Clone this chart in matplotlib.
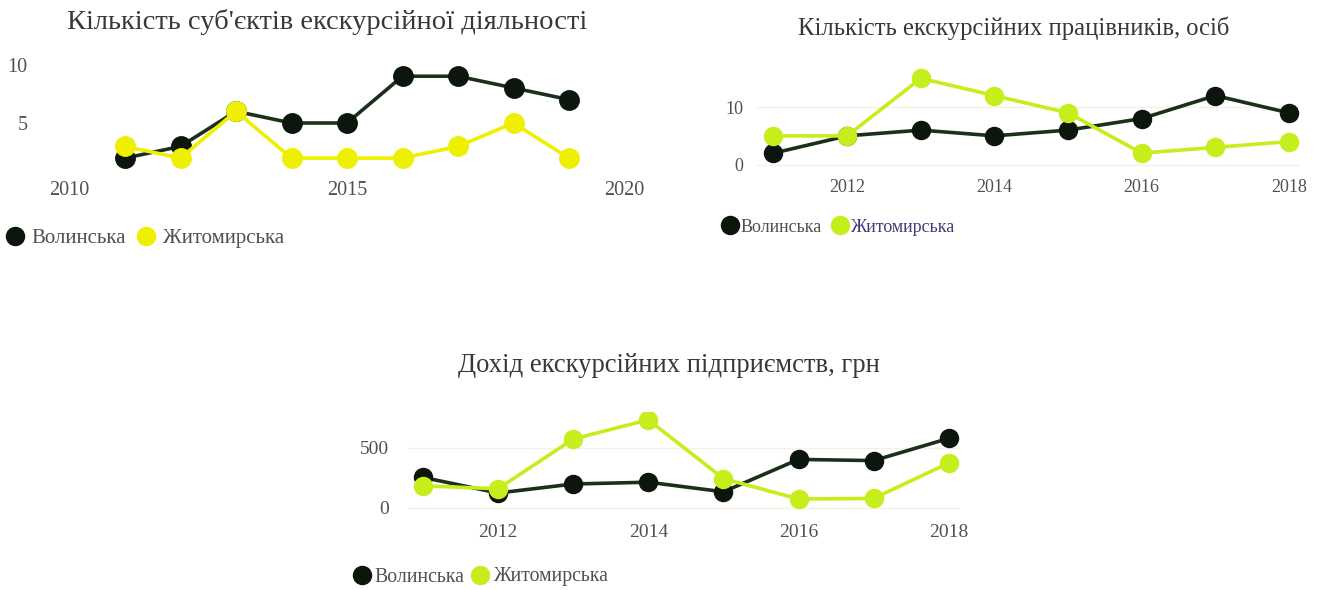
import matplotlib
matplotlib.use('Agg')
import matplotlib.pyplot as plt
from matplotlib.lines import Line2D

plt.rcParams['font.family'] = ['Liberation Serif', 'DejaVu Serif']

# chart 1: number of excursion entities
years1 = [2011, 2012, 2013, 2014, 2015, 2016, 2017, 2018, 2019]
volyn1 = [2, 3, 6, 5, 5, 9, 9, 8, 7]
zhyt1 = [3, 2, 6, 2, 2, 2, 3, 5, 2]

# chart 2: number of excursion workers
years2 = [2011, 2012, 2013, 2014, 2015, 2016, 2017, 2018]
volyn2 = [2, 5, 6, 5, 6, 8, 12, 9]
zhyt2 = [5, 5, 15, 12, 9, 2, 3, 4]

# chart 3: income of excursion enterprises, UAH
years3 = [2011, 2012, 2013, 2014, 2015, 2016, 2017, 2018]
volyn3 = [255, 125, 200, 215, 135, 405, 395, 580]
zhyt3 = [185, 160, 575, 735, 245, 75, 80, 375]

labels = ['Волинська', 'Житомирська']
titles = ['Кількість суб\'єктів екскурсійної діяльності',
          'Кількість екскурсійних працівників, осіб',
          'Дохід екскурсійних підприємств, грн']

DARK = '#0c160c'
DARK_LINE = '#1b301b'
YELLOW = '#eef000'
LIME = '#c6ee1c'

W, H = 1317, 590
fig = plt.figure(figsize=(W / 100, H / 100), dpi=100)


def px_axes(left, top, right, bottom):
    # pixel box -> figure axes
    return fig.add_axes([left / W, 1 - bottom / H, (right - left) / W, (bottom - top) / H])


def draw(ax, years, v, z, zcol, ms, fs):
    ax.plot(years, v, color=DARK_LINE, lw=2.6, marker='o', ms=ms,
            mfc=DARK, mec=DARK, zorder=3)
    ax.plot(years, z, color=zcol, lw=2.6, marker='o', ms=ms,
            mfc=zcol, mec=zcol, zorder=4)
    for s in ax.spines.values():
        s.set_visible(False)
    ax.tick_params(length=0, labelsize=fs, colors='#505050')


def legend(x, y, zcol, fs, textpad, spacing, colors=('#505050', '#505050')):
    hs = [Line2D([], [], ls='none', marker='o', ms=13, mfc=DARK, mec=DARK),
          Line2D([], [], ls='none', marker='o', ms=13, mfc=zcol, mec=zcol)]
    fig.legend(hs, labels, loc='center left', bbox_to_anchor=(x / W, 1 - y / H),
               frameon=False, ncol=2, fontsize=fs, handletextpad=textpad,
               columnspacing=spacing, borderpad=0, borderaxespad=0,
               handlelength=1.0, labelcolor=list(colors))


# chart 1
ax1 = px_axes(69.5, 57.5, 624.5, 178)
draw(ax1, years1, volyn1, zhyt1, YELLOW, 14, 14.5)
ax1.set_xlim(2010, 2020)
ax1.set_ylim(0.3, 10.6)
ax1.set_xticks([2010, 2015, 2020])
ax1.set_yticks([5, 10])
ax1.tick_params(axis='y', pad=30)
ax1.tick_params(axis='x', pad=2)
fig.text(327 / W, 1 - 22 / H, titles[0], ha='center', va='center',
         fontsize=20.5, color='#383838')
legend(4.6, 238, YELLOW, 15, 0.3, 0.46)

# chart 2
ax2 = px_axes(757, 66.8, 1300, 175)
draw(ax2, years2, volyn2, zhyt2, LIME, 13, 13)
ax2.set_xlim(2010.776, 2018.15)
ax2.set_ylim(-1.8, 17)
ax2.set_xticks([2012, 2014, 2016, 2018])
ax2.set_yticks([0, 10])
ax2.grid(axis='y', color='#f2f2e6', lw=1)
ax2.set_axisbelow(True)
ax2.tick_params(axis='y', pad=10)
ax2.tick_params(axis='x', pad=3)
fig.text(1014 / W, 1 - 28 / H, titles[1], ha='center', va='center',
         fontsize=17.7, color='#383838')
legend(721, 227, LIME, 13, 0.1, 0.5, colors=('#505050', '#3e3e78'))

# chart 3
ax3 = px_axes(408, 412, 960, 520)
draw(ax3, years3, volyn3, zhyt3, LIME, 13, 14)
ax3.set_xlim(2010.8, 2018.15)
ax3.set_ylim(-100, 800)
ax3.set_xticks([2012, 2014, 2016, 2018])
ax3.set_yticks([0, 500])
ax3.grid(axis='y', color='#f2f2e6', lw=1)
ax3.set_axisbelow(True)
ax3.tick_params(axis='y', pad=14)
ax3.tick_params(axis='x', pad=3)
fig.text(669 / W, 1 - 366 / H, titles[2], ha='center', va='center',
         fontsize=19.2, color='#383838')
legend(352, 577, LIME, 14.2, 0.15, 0.3)

fig.savefig('out.png', dpi=100, facecolor='white')
